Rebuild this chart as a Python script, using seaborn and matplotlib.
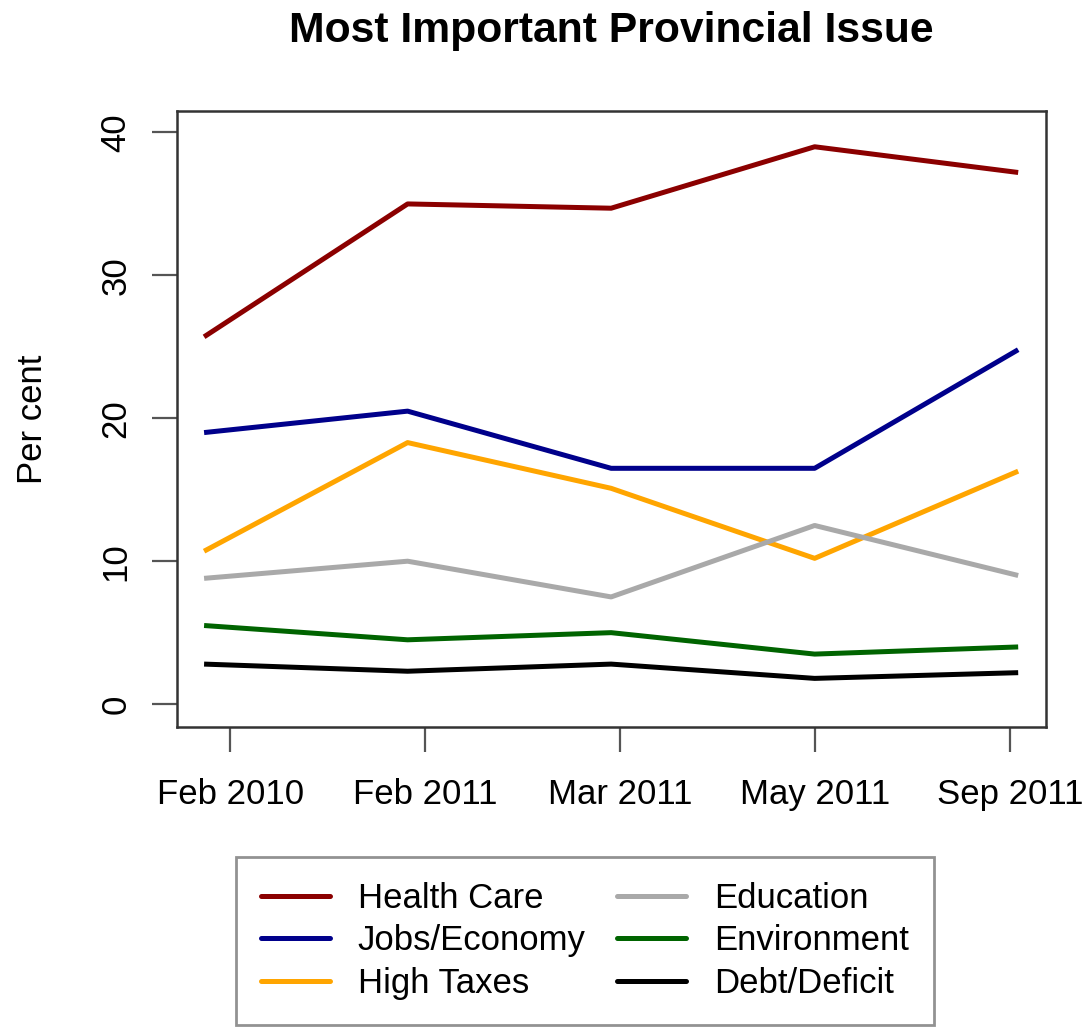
import numpy as np
import pandas as pd
import matplotlib
matplotlib.use("Agg")
import matplotlib.pyplot as plt
import seaborn as sns

# ── data ─────────────────────────────────────────────────────
waves = ["Feb 2010", "Feb 2011", "Mar 2011", "May 2011", "Sep 2011"]
health_care = [25.7, 35.0, 34.7, 39.0, 37.2]
jobs_economy = [19.0, 20.5, 16.5, 16.5, 24.8]
high_taxes = [10.7, 18.3, 15.1, 10.2, 16.3]
education = [8.8, 10.0, 7.5, 12.5, 9.0]
environment = [5.5, 4.5, 5.0, 3.5, 4.0]
debt_deficit = [2.8, 2.3, 2.8, 1.8, 2.2]

issues = ["Health Care", "Jobs/Economy", "High Taxes",
          "Education", "Environment", "Debt/Deficit"]
colors = ["#8B0000", "#00008B", "#FFA500", "#A9A9A9", "#006400", "#000000"]

series = [health_care, jobs_economy, high_taxes,
          education, environment, debt_deficit]
df = pd.DataFrame({
    "wave": np.tile(np.arange(len(waves)), len(issues)),
    "issue": np.repeat(issues, len(waves)),
    "pct": np.concatenate(series),
})

# ── plot ─────────────────────────────────────────────────────
sns.set_style("ticks")
plt.rcParams["font.family"] = ["Liberation Sans", "DejaVu Sans"]
plt.rcParams["text.color"] = "black"
plt.rcParams["axes.labelcolor"] = "black"

fig = plt.figure(figsize=(10.84, 10.30), dpi=100)
ax = fig.add_axes([0.1633, 0.2942, 0.8017, 0.598])

sns.lineplot(data=df, x="wave", y="pct", hue="issue", hue_order=issues,
             palette=dict(zip(issues, colors)), linewidth=3.6,
             solid_capstyle="butt", ax=ax, legend=False)

ax.set_xlim(-0.133, 4.137)
ax.set_ylim(-1.6, 41.5)
# tick marks sit slightly off the data columns, as in the original
ax.set_xticks([0.128, 1.086, 2.044, 3.0, 3.96])
ax.set_xticklabels(waves)
ax.set_yticks([0, 10, 20, 30, 40])
ax.set_yticklabels(["0", "10", "20", "30", "40"], rotation=90, va="center")

ax.tick_params(axis="both", labelsize=25, length=18, width=1.6,
               color="#555555", labelcolor="black")
ax.tick_params(axis="x", pad=19)
ax.tick_params(axis="y", pad=14)
for sp in ax.spines.values():
    sp.set_visible(True)
    sp.set_linewidth(1.8)
    sp.set_color("#333333")

ax.set_xlabel("")
ax.set_ylabel("Per cent", fontsize=25)
ax.yaxis.set_label_coords(-0.147, 0.5)

fig.suptitle("Most Important Provincial Issue", fontsize=30.7,
             fontweight="bold", x=0.5637, y=0.97, va="center")

handles = [plt.Line2D([], [], color=c, lw=3.6) for c in colors]
leg = fig.legend(handles, issues, ncol=2, loc="center",
                 bbox_to_anchor=(0.201, 0.005, 0.677, 0.163),
                 fontsize=25, frameon=True, fancybox=False,
                 handlelength=2.0, handletextpad=0.8, columnspacing=0.9,
                 labelspacing=0.27, borderpad=0.72)
leg.get_frame().set_edgecolor("#777777")
leg.get_frame().set_linewidth(2.0)

plt.savefig("out.png", dpi=100)
